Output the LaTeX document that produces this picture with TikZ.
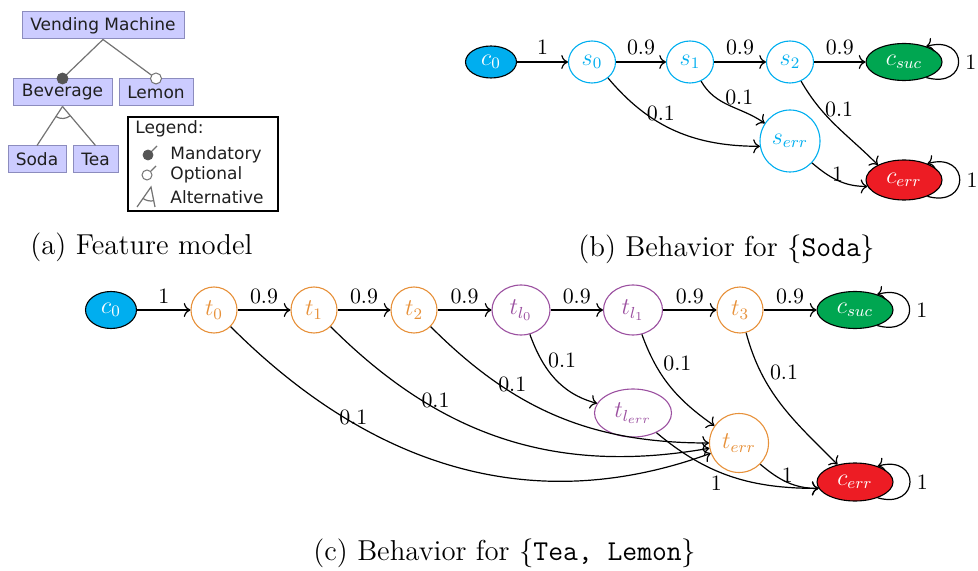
\documentclass[tikz,border=0pt]{standalone}
\usepackage{fontspec}
\newfontfamily\fmfont{DejaVu Sans}
\usetikzlibrary{shapes.geometric,arrows.meta}

\definecolor{procCyan}{RGB}{0,174,239}
\definecolor{nodeOrange}{RGB}{231,145,58}
\definecolor{nodePurple}{RGB}{155,80,160}
\definecolor{sucGreen}{RGB}{0,166,81}
\definecolor{errRed}{RGB}{237,28,36}
\definecolor{fmFill}{RGB}{204,204,255}
\definecolor{fmBorder}{RGB}{140,140,190}
\definecolor{fmLine}{RGB}{115,115,115}
\definecolor{fmDot}{RGB}{85,85,85}

\tikzset{
  state/.style={ellipse, draw, line width=0.55pt, inner sep=0pt,
    font=\fontsize{12}{14}\selectfont},
  sstate/.style={state, draw=procCyan, text=procCyan},
  tstate/.style={state, draw=nodeOrange, text=nodeOrange},
  lstate/.style={state, draw=nodePurple, text=nodePurple},
  cinit/.style={state, draw=black, fill=procCyan, text=white},
  csucc/.style={state, draw=black, fill=sucGreen, text=white},
  cfail/.style={state, draw=black, fill=errRed, text=white},
  trans/.style={-{To[scale=1.15]}, line width=0.6pt},
  prob/.style={font=\fontsize{10.95}{13}\selectfont, inner sep=1pt},
  looplbl/.style={prob, anchor=west, inner sep=3.2pt},
  fmbox/.style={draw=fmBorder, fill=fmFill, line width=0.5pt, inner sep=0pt,
    minimum height=13.5pt, text=black!88, font=\fmfont\fontsize{8.5}{10}\selectfont},
  fmtext/.style={inner sep=0pt, anchor=west, text=black!88,
    font=\fmfont\fontsize{8.5}{10}\selectfont},
  fmline/.style={draw=fmLine, line width=0.6pt},
  mandc/.style={circle, draw=fmDot, fill=fmDot, minimum size=5.5pt, inner sep=0pt},
  optc/.style={circle, draw=fmLine, fill=white, line width=0.5pt, minimum size=5.5pt, inner sep=0pt},
  capt/.style={anchor=west, inner sep=0pt, font=\fontsize{14.4}{17}\selectfont},
}

\begin{document}
\begin{tikzpicture}[x=0.5pt,y=-0.5pt]
\useasboundingbox (0,0) rectangle (978,571);

% ---------------- (a) feature model ----------------
\node[fmbox, minimum width=81pt]   (vm)   at (103,25.5)  {Vending Machine};
\node[fmbox, minimum width=49.5pt] (bev)  at (62.5,92.5) {Beverage};
\node[fmbox, minimum width=37pt]   (lem)  at (156,92.5)  {Lemon};
\node[fmbox, minimum width=29pt]   (soda) at (37,159.5)  {Soda};
\node[fmbox, minimum width=22.5pt] (tea)  at (95.5,159.5){Tea};
\draw[fmline] (vm.south) -- (bev.north);
\draw[fmline] (vm.south) -- (lem.north);
\node[mandc] (mand) at (bev.north) {};
\node[optc]  (opt)  at (lem.north) {};
\draw[fmline] (bev.south) -- (soda.north);
\draw[fmline] (bev.south) -- (tea.north);
\draw[fmline] (bev.south) ++(237.5:6pt) arc[start angle=237.5, end angle=309.5, radius=6pt];

% legend
\node[draw, fill=white, line width=0.6pt, minimum width=75pt, minimum height=47pt,
      inner sep=0pt] (legend) at (203,164) {};
\node[fmtext] (legtitle) at (135,129) {Legend:};
\coordinate (legmtip) at (157,146);
\coordinate (legotip) at (156,166);
\node[mandc, minimum size=5pt] (legm) at (148,155) {};
\draw[fmline] (legm) -- (legmtip);
\node[optc, minimum size=5pt] (lego) at (147,175) {};
\draw[fmline] (lego) -- (legotip);
\coordinate (legapex) at (151,187);
\coordinate (legal) at (137,207);
\coordinate (legar) at (155,207);
\draw[fmline] (legal) -- (legapex) -- (legar);
\draw[fmline] (legapex) ++(235:7pt) arc[start angle=235, end angle=281, radius=7pt];
\node[fmtext] (legmt) at (170,155) {Mandatory};
\node[fmtext] (legot) at (170,175) {Optional};
\node[fmtext] (legat) at (170,197) {Alternative};

\node[capt] (capa) at (30,247) {(a) Feature model};

% ---------------- (b) behaviour for Soda ----------------
\node[cinit, minimum width=25.5pt, minimum height=16pt]  (bc0)   at (491,62) {$c_0$};
\node[sstate, minimum width=23.5pt, minimum height=21pt] (bs0)   at (592,62) {$s_0$};
\node[sstate, minimum width=23.5pt, minimum height=21pt] (bs1)   at (690,62) {$s_1$};
\node[sstate, minimum width=23.5pt, minimum height=21pt] (bs2)   at (790,62) {$s_2$};
\node[csucc, minimum width=38pt, minimum height=18.5pt]  (bsuc)  at (904,62) {$c_{suc}$};
\node[sstate, minimum width=30pt, minimum height=31pt]   (berr)  at (790,141) {$s_{err}$};
\node[cfail, minimum width=38pt, minimum height=20pt]    (bfail) at (904,180) {$c_{err}$};

\draw[trans] (bc0) -- node[prob, yshift=7.5pt] {1} (bs0);
\draw[trans] (bs0) -- node[prob, yshift=7.5pt] {0.9} (bs1);
\draw[trans] (bs1) -- node[prob, yshift=7.5pt] {0.9} (bs2);
\draw[trans] (bs2) -- node[prob, yshift=7.5pt] {0.9} (bsuc);
\draw[trans] (bs0.-45) to[out=-50,in=180]
  node[prob, pos=0.4, yshift=5pt] {0.1} (berr.190);
\draw[trans] (bs1.-60) to[out=-60,in=145]
  node[prob, pos=0.35, xshift=9.75pt, yshift=1.5pt] {0.1} (berr.145);
\draw[trans] (bs2.-60) to[out=-60,in=135]
  node[prob, pos=0.35, xshift=7pt, yshift=2.5pt] {0.1} (bfail.150);
\draw[trans] (berr.-45) to[out=-40,in=180]
  node[prob, pos=0.5, yshift=3pt] {1} (bfail.190);
\draw[trans] (bsuc.-35) .. controls +(43,12) and +(43,-12) .. node[looplbl, pos=0.5] {1} (bsuc.35);
\draw[trans] (bfail.-35) .. controls +(43,12) and +(43,-12) .. node[looplbl, pos=0.5] {1} (bfail.35);

\node[capt] (capb) at (578,249) {(b) Behavior for $\{$\texttt{Soda}$\}$};

% ---------------- (c) behaviour for Tea, Lemon ----------------
\node[cinit, minimum width=25.5pt, minimum height=18.5pt] (cc0)  at (111,310) {$c_0$};
\node[tstate, minimum width=23pt, minimum height=23pt]    (ct0)  at (214,310) {$t_0$};
\node[tstate, minimum width=23pt, minimum height=23pt]    (ct1)  at (314,310) {$t_1$};
\node[tstate, minimum width=23pt, minimum height=23pt]    (ct2)  at (414,310) {$t_2$};
\node[lstate, minimum width=29pt, minimum height=25pt]    (cl0)  at (521,310) {$t_{l_0}$};
\node[lstate, minimum width=29.5pt, minimum height=25pt]  (cl1)  at (633,310) {$t_{l_1}$};
\node[tstate, minimum width=23pt, minimum height=23pt]    (ct3)  at (740,310) {$t_3$};
\node[csucc, minimum width=38pt, minimum height=18.5pt]   (csuc) at (855,310) {$c_{suc}$};
\node[lstate, minimum width=38.5pt, minimum height=24pt]  (clerr) at (633,413) {$t_{l_{err}}$};
\node[tstate, minimum width=29.5pt, minimum height=29.5pt] (cterr) at (739,443) {$t_{err}$};
\node[cfail, minimum width=38pt, minimum height=19pt]     (cfail) at (855,482) {$c_{err}$};

\draw[trans] (cc0) -- node[prob, yshift=7pt] {1} (ct0);
\draw[trans] (ct0) -- node[prob, yshift=7pt] {0.9} (ct1);
\draw[trans] (ct1) -- node[prob, yshift=7pt] {0.9} (ct2);
\draw[trans] (ct2) -- node[prob, yshift=7pt] {0.9} (cl0);
\draw[trans] (cl0) -- node[prob, yshift=7pt] {0.9} (cl1);
\draw[trans] (cl1) -- node[prob, yshift=7pt] {0.9} (ct3);
\draw[trans] (ct3) -- node[prob, yshift=7pt] {0.9} (csuc);

\draw[trans] (ct0.-45) to[out=-45,in=200]
  node[prob, pos=0.28, xshift=1pt, yshift=2pt] {0.1} (cterr.200);
\draw[trans] (ct1.-45) to[out=-45,in=190]
  node[prob, pos=0.31, yshift=4pt] {0.1} (cterr.190);
\draw[trans] (ct2.-45) to[out=-45,in=180]
  node[prob, pos=0.32, xshift=1pt, yshift=3.75pt] {0.1} (cterr.180);
\draw[trans] (cl0.-70) to[out=-70,in=165]
  node[prob, pos=0.3, xshift=9.5pt, yshift=1.5pt] {0.1} (clerr.165);
\draw[trans] (cl1.-70) to[out=-70,in=145]
  node[prob, pos=0.3, xshift=10pt, yshift=2.5pt] {0.1} (cterr.145);
\draw[trans] (ct3.-75) to[out=-75,in=135]
  node[prob, pos=0.25, xshift=11.5pt] {0.1} (cfail.135);
\draw[trans] (clerr.-40) to[out=-40,in=180]
  node[prob, pos=0.4, yshift=-6pt] {1} (cfail.190);
\draw[trans] (cterr.-45) to[out=-40,in=180]
  node[prob, pos=0.5, yshift=3.5pt] {1} (cfail.190);
\draw[trans] (csuc.-35) .. controls +(43,12) and +(43,-12) .. node[looplbl, pos=0.5] {1} (csuc.35);
\draw[trans] (cfail.-35) .. controls +(43,12) and +(43,-12) .. node[looplbl, pos=0.5] {1} (cfail.35);

\node[capt] (capc) at (313,553) {(c) Behavior for $\{$\texttt{Tea, Lemon}$\}$};
\end{tikzpicture}
\end{document}
